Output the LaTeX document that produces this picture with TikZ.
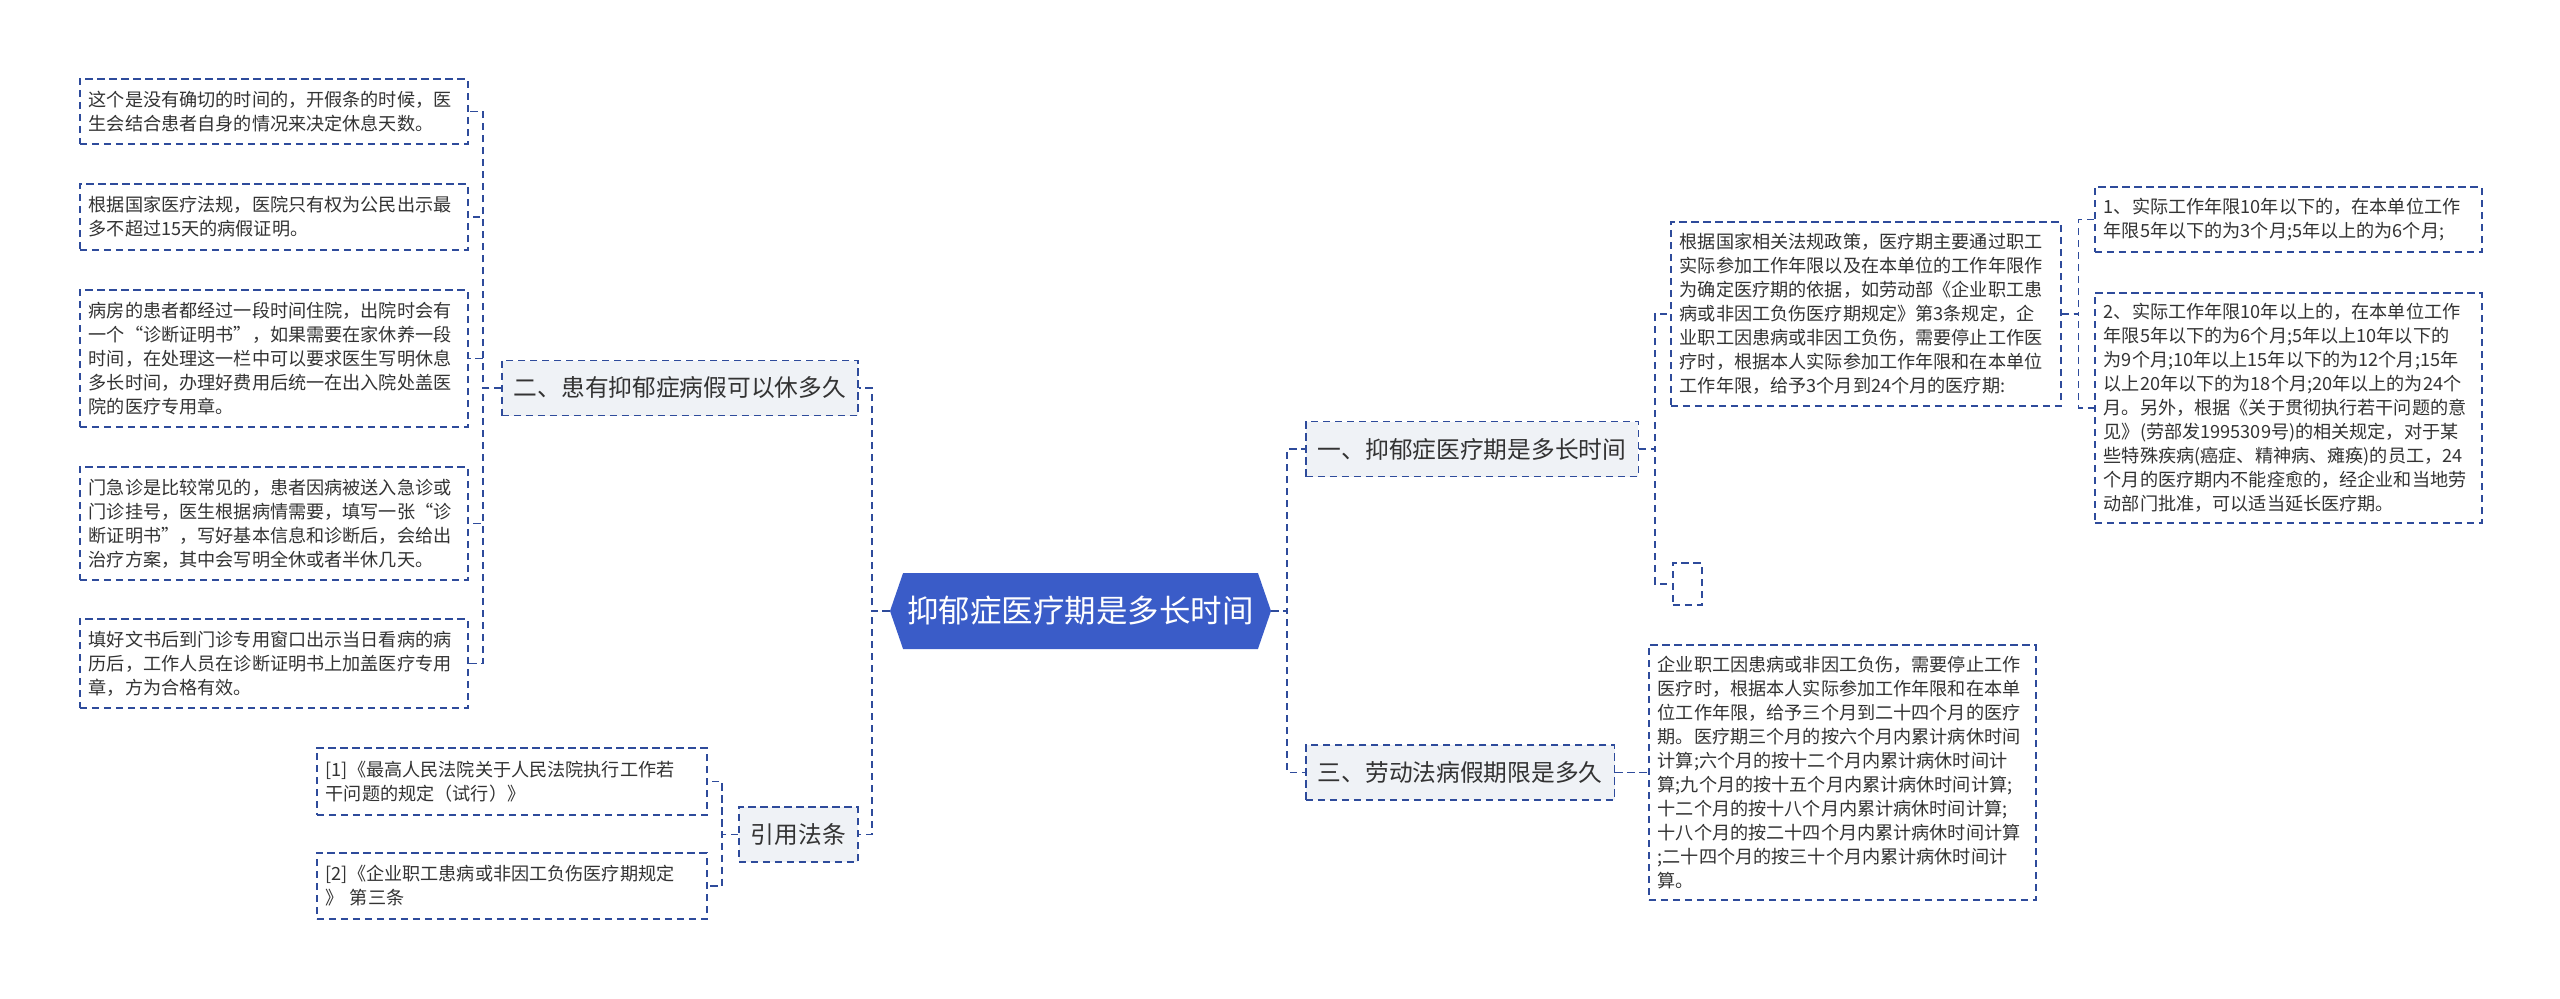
\documentclass[tikz,border=0pt]{standalone}
\usepackage{fontspec}
\setmainfont{Noto Sans CJK SC}
\usepackage{tikz}
\usetikzlibrary{shapes.symbols}
\usepackage{xcolor}
\definecolor{linkblue}{HTML}{2E4B9B}
\definecolor{rootblue}{HTML}{3A5CC8}
\definecolor{topicgray}{HTML}{EFF2F6}
\definecolor{textgray}{HTML}{333333}

\begin{document}
\begin{tikzpicture}[
  x=0.75pt, y=-0.75pt,
  link/.style={draw=linkblue, line width=1.2pt, dash pattern=on 5.5pt off 3.5pt},
  leaf/.style={link, anchor=west, align=left, inner xsep=6.75pt, inner ysep=0pt, text=textgray, font=\fontsize{13.6}{18}\selectfont},
  topic/.style={link, fill=topicgray, anchor=west, inner xsep=9pt, inner ysep=0pt, minimum height=41.25pt, text=textgray, font=\fontsize{17.8}{22}\selectfont},
  central/.style={shape=signal, signal to=west and east, signal pointer angle=142, fill=rootblue, text=white, inner sep=0pt, minimum width=285.75pt, minimum height=57pt, font=\fontsize{23.6}{28}\selectfont}
]
\path[fill=white, use as bounding box] (0,0) rectangle (2560,999);

\node[central] (root) at (1080.5,611) {抑郁症医疗期是多长时间};

\node[topic] (n2) at (501,388) {二、患有抑郁症病假可以休多久};
\node[topic] (ref) at (738,834.5) {引用法条};
\node[topic] (n1) at (1305,449) {一、抑郁症医疗期是多长时间};
\node[topic] (n3) at (1305,772.5) {三、劳动法病假期限是多久};

\node[leaf, text width=277.5pt, minimum height=48.75pt] (l1) at (79,111.5)
  {这个是没有确切的时间的，开假条的时候，医\\生会结合患者自身的情况来决定休息天数。};
\node[leaf, text width=277.5pt, minimum height=49.5pt] (l2) at (79,217)
  {根据国家医疗法规，医院只有权为公民出示最\\多不超过15天的病假证明。};
\node[leaf, text width=277.5pt, minimum height=102.75pt] (l3) at (79,358.5)
  {病房的患者都经过一段时间住院，出院时会有\\一个“诊断证明书”，如果需要在家休养一段\\时间，在处理这一栏中可以要求医生写明休息\\多长时间，办理好费用后统一在出入院处盖医\\院的医疗专用章。};
\node[leaf, text width=277.5pt, minimum height=84.75pt] (l4) at (79,523.5)
  {门急诊是比较常见的，患者因病被送入急诊或\\门诊挂号，医生根据病情需要，填写一张“诊\\断证明书”，写好基本信息和诊断后，会给出\\治疗方案，其中会写明全休或者半休几天。};
\node[leaf, text width=277.5pt, minimum height=66.75pt] (l5) at (79,663.5)
  {填好文书后到门诊专用窗口出示当日看病的病\\历后，工作人员在诊断证明书上加盖医疗专用\\章，方为合格有效。};

\node[leaf, text width=279pt, minimum height=50.25pt] (r1) at (316,781.5)
  {[1]《最高人民法院关于人民法院执行工作若\\干问题的规定（试行）》};
\node[leaf, text width=279pt, minimum height=49.5pt] (r2) at (316,886)
  {[2]《企业职工患病或非因工负伤医疗期规定\\》 第三条};

\node[leaf, text width=279pt, minimum height=138pt] (a) at (1670,314)
  {根据国家相关法规政策，医疗期主要通过职工\\实际参加工作年限以及在本单位的工作年限作\\为确定医疗期的依据，如劳动部《企业职工患\\病或非因工负伤医疗期规定》第3条规定，企\\业职工因患病或非因工负伤，需要停止工作医\\疗时，根据本人实际参加工作年限和在本单位\\工作年限，给予3个月到24个月的医疗期:};
\node[link, anchor=west, inner sep=0pt, minimum width=21.75pt, minimum height=31.5pt] (e) at (1672,584) {};

\node[leaf, text width=276.75pt, minimum height=48.75pt] (c1) at (2094,219.5)
  {1、实际工作年限10年以下的，在本单位工作\\年限5年以下的为3个月;5年以上的为6个月;};
\node[leaf, text width=276.75pt, minimum height=172.5pt] (c2) at (2094,408)
  {2、实际工作年限10年以上的，在本单位工作\\年限5年以下的为6个月;5年以上10年以下的\\为9个月;10年以上15年以下的为12个月;15年\\以上20年以下的为18个月;20年以上的为24个\\月。另外，根据《关于贯彻执行若干问题的意\\见》(劳部发1995309号)的相关规定，对于某\\些特殊疾病(癌症、精神病、瘫痪)的员工，24\\个月的医疗期内不能痊愈的，经企业和当地劳\\动部门批准，可以适当延长医疗期。};

\node[leaf, text width=276.75pt, minimum height=191.25pt] (t) at (1648,772.5)
  {企业职工因患病或非因工负伤，需要停止工作\\医疗时，根据本人实际参加工作年限和在本单\\位工作年限，给予三个月到二十四个月的医疗\\期。医疗期三个月的按六个月内累计病休时间\\计算;六个月的按十二个月内累计病休时间计\\算;九个月的按十五个月内累计病休时间计算;\\十二个月的按十八个月内累计病休时间计算;\\十八个月的按二十四个月内累计病休时间计算\\;二十四个月的按三十个月内累计病休时间计\\算。};

\foreach \n in {n2,ref} \draw[link] (root.west) -- ++(-18,0) |- (\n.east);
\foreach \n in {n1,n3} \draw[link] (root.east) -- ++(16,0) |- (\n.west);
\foreach \n in {l1,l2,l3,l4,l5} \draw[link] (n2.west) -- ++(-18,0) |- (\n.east);
\foreach \n in {r1,r2} \draw[link] (ref.west) -- ++(-16,0) |- (\n.east);
\foreach \n in {a,e} \draw[link] (n1.east) -- ++(16,0) |- (\n.west);
\foreach \n in {c1,c2} \draw[link] (a.east) -- ++(17,0) |- (\n.west);
\draw[link] (n3.east) -- (t.west);
\end{tikzpicture}
\end{document}
